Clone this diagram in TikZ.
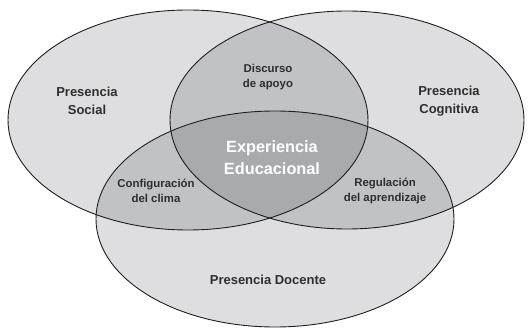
\documentclass[tikz,border=0pt]{standalone}
\usepackage{fontspec}
\setmainfont{Liberation Sans}
\usetikzlibrary{shapes.geometric}

\begin{document}
\begin{tikzpicture}[
    x=1pt, y=-1pt,
    presence/.style={ellipse, draw=black!88, line width=0.9pt,
        fill={rgb,255:red,20;green,24;blue,36}, fill opacity=0.14,
        inner sep=0pt},
    biglabel/.style={text=black!82, font=\bfseries\fontsize{13}{18}\selectfont,
        align=center},
    smalllabel/.style={text=black!82, font=\bfseries\fontsize{11.4}{15}\selectfont,
        align=center},
    corelabel/.style={text=white, font=\bfseries\fontsize{16.3}{22}\selectfont,
        align=center}
]
    \useasboundingbox (0,0) rectangle (529,328);
    % the three presences
    \node[presence, minimum width=360pt, minimum height=220pt] (social) at (188,120) {};
    \node[presence, minimum width=354pt, minimum height=218pt] (cognitiva) at (347,120) {};
    \node[presence, minimum width=358pt, minimum height=216pt] (docente) at (275,219) {};
    % labels
    \node[biglabel] (lsocial) at (87,101) {Presencia\\Social};
    \node[biglabel] (lcognitiva) at (449,101) {Presencia\\Cognitiva};
    \node[biglabel] (ldocente) at (268,280) {Presencia Docente};
    \node[smalllabel] (discurso) at (268,77) {Discurso\\de apoyo};
    \node[smalllabel] (clima) at (156,191) {Configuración\\del clima};
    \node[smalllabel] (regulacion) at (385,191) {Regulación\\del aprendizaje};
    \node[corelabel] (experiencia) at (272,158) {Experiencia\\Educacional};
\end{tikzpicture}
\end{document}
